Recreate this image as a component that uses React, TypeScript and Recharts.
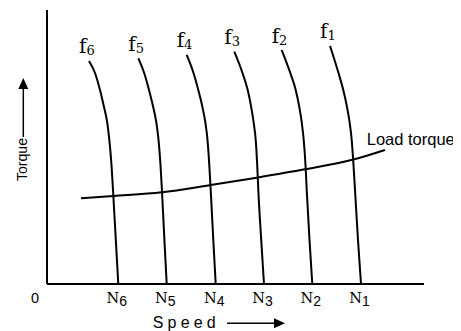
import React from "react";
import { LineChart, Line, XAxis, YAxis } from "recharts";

// Axis ticks (speed axis)
const speedTicks = [0, 18.91, 31.75, 44.75, 57.56, 70.37, 83.29];
const tickMain = ["0", "N", "N", "N", "N", "N", "N"];
const tickSub = ["", "6", "5", "4", "3", "2", "1"];

// Shared torque levels below each curve's top point
const torqueLevels = [77.0, 70.8, 64.6, 58.8, 52.6, 43.4, 34.3, 16.1, 0];

// Frequency curves: speed values (top to bottom) and top torque
const speedF1 = [75.07, 77.32, 78.59, 79.58, 80.29, 80.82, 81.3, 81.7, 82.49, 83.29];
const speedF2 = [62.25, 64.54, 65.97, 66.92, 67.59, 68.09, 68.57, 68.89, 69.63, 70.37];
const speedF3 = [49.68, 51.86, 53.24, 54.16, 54.83, 55.36, 55.76, 56.05, 56.82, 57.56];
const speedF4 = [37.06, 38.86, 40.13, 41.22, 42.02, 42.57, 43.05, 43.42, 44.11, 44.75];
const speedF5 = [24.22, 25.78, 27.06, 28.17, 29.02, 29.58, 30.11, 30.48, 31.14, 31.75];
const speedF6 = [11.14, 12.73, 14.06, 15.12, 15.99, 16.53, 17.11, 17.51, 18.25, 18.91];
const topTorque = [86.9, 85.4, 84.8, 83.6, 82.4, 81.4];
const curveSubs = ["1", "2", "3", "4", "5", "6"];

// Load torque line
const loadSpeed = [9.02, 17.59, 30.42, 43.42, 55.62, 68.44, 81.51, 89.66];
const loadTorque = [31.28, 32.12, 33.47, 36.13, 38.8, 41.86, 45.51, 48.91];
const loadLabel = "Load torque";

const curveSpeeds = [speedF1, speedF2, speedF3, speedF4, speedF5, speedF6];
const curves = curveSpeeds.map((sp, i) => {
  const tq = [topTorque[i], ...torqueLevels];
  return sp.map((s, j) => ({ speed: s, torque: tq[j] }));
});
const loadData = loadSpeed.map((s, i) => ({ speed: s, torque: loadTorque[i] }));

const SANS = "'Liberation Sans', Arial, sans-serif";
const SERIF = "'DejaVu Serif', serif";

const SpeedTick = (props: any) => {
  const { x, y, payload } = props;
  const idx = speedTicks.indexOf(payload.value);
  if (idx < 0) return <g />;
  if (idx === 0) {
    return (
      <text x={x - 12} y={y + 18.7} textAnchor="middle" fontFamily={SANS} fontSize={14.5} fill="#000">
        {tickMain[0]}
      </text>
    );
  }
  return (
    <text x={x - 1.5} y={y + 18.7} textAnchor="middle" fill="#000">
      <tspan fontFamily={SERIF} fontSize={14.5}>{tickMain[idx]}</tspan>
      <tspan fontFamily={SANS} fontSize={14} dy={3.5}>{tickSub[idx]}</tspan>
    </text>
  );
};

const makeFLabel = (sub: string) => (props: any) => {
  const { x, y, index } = props;
  if (index !== 0) return <g />;
  return (
    <text x={x - 10} y={y - 7.5} fill="#000">
      <tspan fontFamily={SERIF} fontSize={20}>f</tspan>
      <tspan fontFamily={SERIF} fontSize={13} dy={2}>{sub}</tspan>
    </text>
  );
};

const LoadLabel = (props: any) => {
  const { x, y, index } = props;
  if (index !== loadData.length - 1) return <g />;
  return (
    <text x={x - 18.3} y={y - 5} fontFamily={SANS} fontSize={16.5} fill="#000">
      {loadLabel}
    </text>
  );
};

export default function App() {
  return (
    <div style={{ position: "relative", width: 453, height: 323 }}>
      <LineChart
        width={453}
        height={323}
        margin={{ top: 2, right: 37, left: 0, bottom: 0 }}
      >
        <XAxis
          type="number"
          dataKey="speed"
          domain={[0, 100]}
          ticks={speedTicks}
          interval={0}
          tick={SpeedTick}
          tickLine={false}
          tickSize={0}
          tickMargin={0}
          height={47}
          axisLine={{ stroke: "#000", strokeWidth: 2 }}
        />
        <YAxis
          type="number"
          dataKey="torque"
          domain={[0, 100]}
          tick={false}
          tickLine={false}
          width={39}
          axisLine={{ stroke: "#000", strokeWidth: 2 }}
        />
        {curves.map((d, i) => (
          <Line
            key={"f" + curveSubs[i]}
            data={d}
            dataKey="torque"
            type="monotone"
            stroke="#000"
            strokeWidth={2}
            dot={false}
            activeDot={false}
            isAnimationActive={false}
            label={makeFLabel(curveSubs[i])}
          />
        ))}
        <Line
          data={loadData}
          dataKey="torque"
          type="monotone"
          stroke="#000"
          strokeWidth={2}
          dot={false}
          activeDot={false}
          isAnimationActive={false}
          label={LoadLabel}
        />
      </LineChart>
      <svg
        width={453}
        height={323}
        style={{ position: "absolute", left: 0, top: 0, pointerEvents: "none", overflow: "visible" }}
      >
        <text
          x={19}
          y={151.5}
          transform="rotate(-90 19 151.5)"
          textAnchor="middle"
          fontFamily={SANS}
          fontSize={15.5}
          textLength={43}
          lengthAdjust="spacingAndGlyphs"
          fill="#000"
        >
          Torque
        </text>
        <line x1={15.3} y1={129} x2={15.3} y2={80} stroke="#000" strokeWidth={1.5} />
        <polygon points="15.3,70 10.3,81 20.3,81" fill="#000" />
        <text x={144.7} y={319.5} fontFamily={SANS} fontSize={16} letterSpacing={4.2} fill="#000">
          Speed
        </text>
        <line x1={219} y1={315.3} x2={268} y2={315.3} stroke="#000" strokeWidth={1.5} />
        <polygon points="277,315.3 266,310.3 266,320.3" fill="#000" />
      </svg>
    </div>
  );
}
